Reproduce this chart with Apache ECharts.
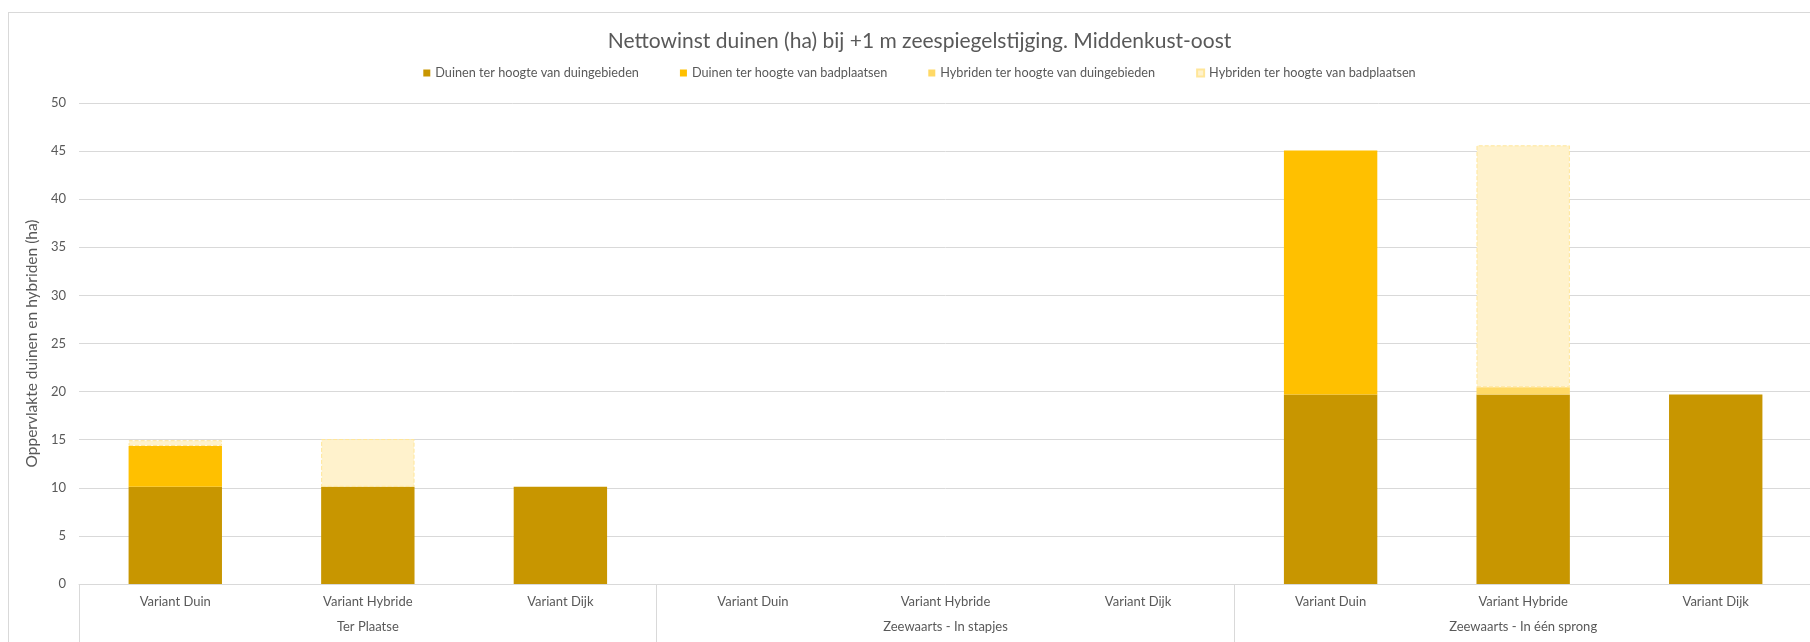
<!DOCTYPE html>
<html>
<head>
<meta charset="utf-8">
<script src="https://cdn.jsdelivr.net/npm/echarts@6/dist/echarts.min.js"></script>
<style>
  html, body { margin: 0; padding: 0; background: #fff; overflow: hidden; }
  #main { position: absolute; left: 8px; top: 12px; width: 1821px; height: 660px; border: 1px solid #d9d9d9; }
</style>
</head>
<body>
<div id="main"></div>
<script>
// categorieen
const varianten = ['Variant Duin', 'Variant Hybride', 'Variant Dijk',
                   'Variant Duin', 'Variant Hybride', 'Variant Dijk',
                   'Variant Duin', 'Variant Hybride', 'Variant Dijk']
const groepen = ['Ter Plaatse', 'Zeewaarts - In stapjes', 'Zeewaarts - In één sprong']

// waarden (ha)
const duinenDuingebieden = [10.1, 10.1, 10.1, null, null, null, 19.7, 19.7, 19.7]
const duinenBadplaatsen = [4.25, null, null, null, null, null, 25.35, null, null]
const hybridenDuingebieden = [null, null, null, null, null, null, null, 0.75, null]
const hybridenBadplaatsen = [0.6, 4.97, null, null, null, null, null, 25.15, null]

const yTicks = [0, 50, 5] // min, max, interval

const font = 'Lato, "Noto Sans", sans-serif'
const grey = '#595959'
const lineGrey = '#d9d9d9'

var myChart = echarts.init(document.getElementById('main'))

function bar (name, data, color, extra) {
  return Object.assign({
    name: name,
    type: 'bar',
    stack: 'totaal',
    barWidth: '48.5%',
    data: data,
    itemStyle: { color: color }
  }, extra || {})
}

var option = {
  animation: false,
  textStyle: { fontFamily: font },
  title: {
    text: 'Nettowinst duinen (ha) bij +1 m zeespiegelstijging. Middenkust-oost',
    left: 'center',
    top: 11,
    textStyle: { fontFamily: font, fontSize: 21, fontWeight: 'normal', color: grey, lineHeight: 24 }
  },
  legend: {
    top: 48,
    left: 'center',
    itemWidth: 7,
    itemHeight: 7,
    itemGap: 41,
    icon: 'rect',
    textStyle: { fontFamily: font, fontSize: 12.7, color: grey, lineHeight: 14 },
    data: [
      'Duinen ter hoogte van duingebieden',
      'Duinen ter hoogte van badplaatsen',
      'Hybriden ter hoogte van duingebieden',
      'Hybriden ter hoogte van badplaatsen'
    ]
  },
  grid: { left: 70, right: 18, top: 90, bottom: 89 },
  xAxis: [
    {
      type: 'category',
      data: varianten,
      axisLine: { lineStyle: { color: lineGrey } },
      axisTick: { show: false },
      axisLabel: { color: grey, fontSize: 13, margin: 11, interval: 0, fontFamily: font }
    },
    {
      type: 'category',
      data: groepen,
      position: 'bottom',
      axisLine: { show: false },
      axisTick: { show: true, length: 90, lineStyle: { color: lineGrey } },
      axisLabel: { color: grey, fontSize: 13, margin: 36, interval: 0, fontFamily: font },
      splitLine: { show: false }
    }
  ],
  yAxis: {
    type: 'value',
    min: yTicks[0],
    max: yTicks[1],
    interval: yTicks[2],
    name: 'Oppervlakte duinen en hybriden (ha)',
    nameLocation: 'middle',
    nameRotate: 90,
    nameGap: 33,
    nameTextStyle: { color: grey, fontSize: 15.5, fontFamily: font },
    axisLine: { show: false },
    axisTick: { show: false },
    axisLabel: { color: grey, fontSize: 13, margin: 13, fontFamily: font },
    splitLine: { lineStyle: { color: lineGrey } }
  },
  series: [
    bar('Duinen ter hoogte van duingebieden', duinenDuingebieden, '#C89600'),
    bar('Duinen ter hoogte van badplaatsen', duinenBadplaatsen, '#FFC000'),
    bar('Hybriden ter hoogte van duingebieden', hybridenDuingebieden, '#FFD966'),
    bar('Hybriden ter hoogte van badplaatsen', hybridenBadplaatsen, '#FFF2CC', {
      itemStyle: { color: '#FFF2CC', borderColor: '#FFE699', borderWidth: 1, borderType: 'dashed' }
    })
  ]
}

myChart.setOption(option)
window.addEventListener('resize', () => {
  myChart.resize()
})
</script>
</body>
</html>
